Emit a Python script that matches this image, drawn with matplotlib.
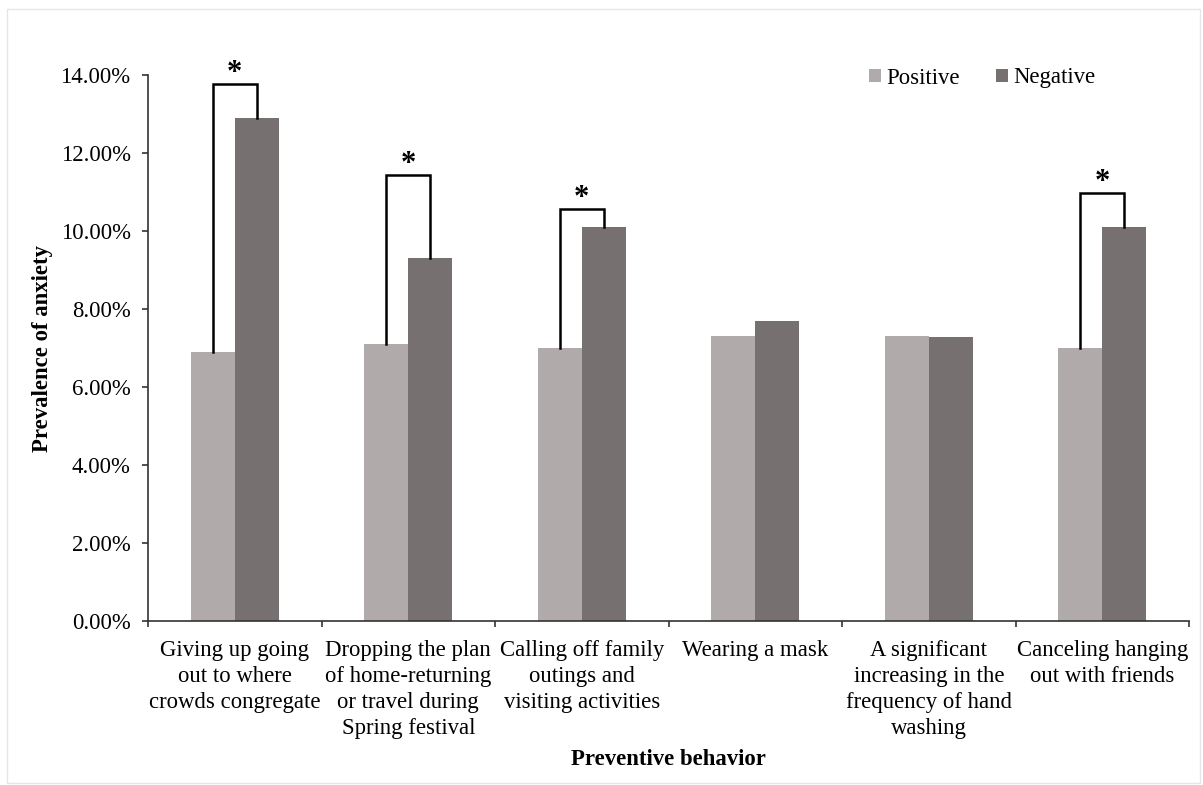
import matplotlib
matplotlib.use("Agg")
import matplotlib.pyplot as plt
from matplotlib.ticker import FuncFormatter
import numpy as np

categories = [
    "Giving up going\nout to where\ncrowds congregate",
    "Dropping the plan\nof home-returning\nor travel during\nSpring festival",
    "Calling off family\noutings and\nvisiting activities",
    "Wearing a mask",
    "A significant\nincreasing in the\nfrequency of hand\nwashing",
    "Canceling hanging\nout with friends",
]
positive = [6.9, 7.1, 7.0, 7.3, 7.3, 7.0]
negative = [12.9, 9.3, 10.1, 7.7, 7.28, 10.1]
sig_index = [0, 1, 2, 5]
sig_height = [13.77, 11.44, 10.56, 10.97]
yticks = [0, 2, 4, 6, 8, 10, 12, 14]

plt.rcParams['font.family'] = ['Liberation Serif', 'DejaVu Serif']

W, H = 1203, 785
FS = 16.4
fig = plt.figure(figsize=(W / 100, H / 100), dpi=100)
ax = fig.add_axes([148 / W, 1 - 621 / H, (1189 - 148) / W, (621 - 75) / H])

x = np.arange(len(categories))
bw = 0.255
c_pos = "#b0abaa"
c_neg = "#767070"
ax.bar(x - bw / 2, positive, bw, color=c_pos, label="Positive")
ax.bar(x + bw / 2, negative, bw, color=c_neg, label="Negative")

for i, h in zip(sig_index, sig_height):
    xl = x[i] - bw / 2
    xr = x[i] + bw / 2
    ax.plot([xl, xl, xr, xr], [positive[i], h, h, negative[i]],
            color="black", lw=1.8, solid_joinstyle="miter", clip_on=False)
    ax.text(x[i], h + 0.08, "*", ha="center", va="baseline",
            fontsize=22, fontweight="bold")

ax.set_xlim(-0.5, len(categories) - 0.5)
ax.set_ylim(0, 14)
ax.set_yticks(yticks)
ax.yaxis.set_major_formatter(FuncFormatter(lambda v, p: f"{v:.2f}%"))
ax.set_xticks(np.arange(len(categories) + 1) - 0.5, minor=False)
ax.set_xticklabels([])
ax.set_xticks(x, minor=True)
ax.set_xticklabels(categories, minor=True, fontsize=FS, linespacing=1.32)
ax.tick_params(axis="x", which="minor", length=0, pad=13.5)
ax.tick_params(axis="x", which="major", length=4.5, width=1.2, color="#333333")
ax.tick_params(axis="y", length=4.5, width=1.2, color="#333333", labelsize=FS, pad=8)

for s in ["top", "right"]:
    ax.spines[s].set_visible(False)
for s in ["left", "bottom"]:
    ax.spines[s].set_linewidth(1.2)
    ax.spines[s].set_color("#333333")

ax.set_ylabel("Prevalence of anxiety", fontsize=FS, fontweight="bold")
ax.set_xlabel("Preventive behavior", fontsize=FS, fontweight="bold")
ax.xaxis.set_label_coords(0.5, -(749 - 621) / (621 - 75))
ax.yaxis.set_label_coords(-(148 - 53) / (1189 - 148), 0.5)

fig.legend(loc="center", bbox_to_anchor=((872 + 1093) / 2 / W, 1 - 78 / H),
           ncol=2, frameon=False, fontsize=FS, handlelength=0.5,
           handleheight=0.5, handletextpad=0.25, columnspacing=1.6)

border = plt.Rectangle((7 / W, 1 - 783 / H), (1200 - 7) / W, (783 - 9) / H,
                       transform=fig.transFigure, fill=False,
                       edgecolor="#e6e6e6", lw=1)
fig.add_artist(border)

fig.savefig("out.png", dpi=100)
